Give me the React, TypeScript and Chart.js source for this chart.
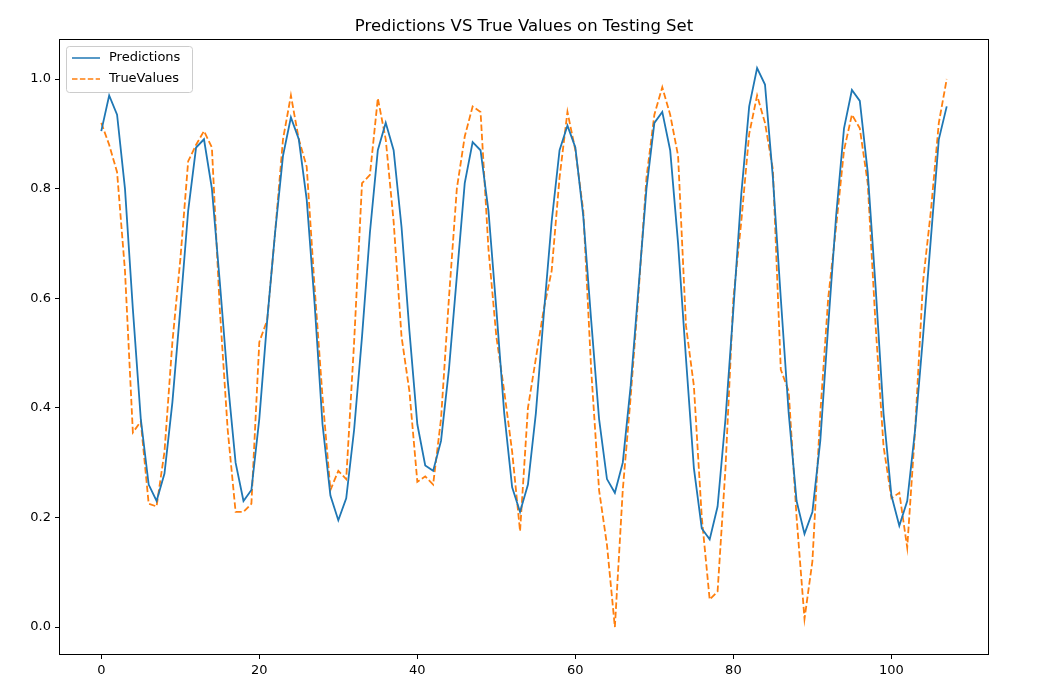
import React, { useEffect, useRef } from "react";
import Chart from "chart.js/auto";

// x index 0..107
const predictions = [
  0.905, 0.97, 0.935, 0.8, 0.58, 0.38, 0.26, 0.23, 0.28, 0.41, 0.58, 0.76, 0.875, 0.89, 0.8, 0.63, 0.45, 0.3, 0.23, 0.25,
  0.38, 0.56, 0.72, 0.86, 0.93, 0.89, 0.78, 0.59, 0.37, 0.24, 0.195, 0.235, 0.36, 0.53, 0.72, 0.87, 0.92, 0.87, 0.73, 0.54,
  0.37, 0.295, 0.285, 0.34, 0.47, 0.64, 0.81, 0.885, 0.87, 0.76, 0.58, 0.39, 0.255, 0.21, 0.26, 0.39, 0.57, 0.74, 0.87, 0.915,
  0.875, 0.75, 0.56, 0.38, 0.27, 0.245, 0.3, 0.44, 0.62, 0.8, 0.92, 0.94, 0.87, 0.7, 0.49, 0.29, 0.18, 0.16, 0.22, 0.38,
  0.58, 0.79, 0.95, 1.02, 0.99, 0.82, 0.6, 0.39, 0.23, 0.17, 0.21, 0.34, 0.55, 0.75, 0.91, 0.98, 0.96, 0.83, 0.62, 0.39,
  0.24, 0.185, 0.23, 0.36, 0.53, 0.71, 0.89, 0.95,
];
const trueValues = [
  0.92, 0.88, 0.83, 0.65, 0.355, 0.375, 0.225, 0.22, 0.32, 0.52, 0.67, 0.85, 0.88, 0.905, 0.875, 0.58, 0.36, 0.21, 0.21, 0.225,
  0.52, 0.56, 0.72, 0.89, 0.97, 0.89, 0.84, 0.62, 0.42, 0.25, 0.285, 0.27, 0.52, 0.81, 0.825, 0.965, 0.89, 0.74, 0.53, 0.43,
  0.265, 0.275, 0.26, 0.38, 0.6, 0.8, 0.895, 0.95, 0.94, 0.69, 0.53, 0.43, 0.32, 0.175, 0.4, 0.49, 0.58, 0.65, 0.82, 0.94,
  0.87, 0.76, 0.47, 0.25, 0.15, 0.0, 0.25, 0.42, 0.61, 0.82, 0.935, 0.985, 0.935, 0.86, 0.55, 0.44, 0.2, 0.05, 0.065, 0.29,
  0.6, 0.74, 0.9, 0.97, 0.92, 0.835, 0.47, 0.43, 0.2, 0.015, 0.12, 0.39, 0.6, 0.73, 0.87, 0.935, 0.91, 0.81, 0.55, 0.33,
  0.235, 0.245, 0.145, 0.36, 0.63, 0.76, 0.92, 1.0,
];
const xTicks = [0, 20, 40, 60, 80, 100];
const yTicks = [0, 0.2, 0.4, 0.6, 0.8, 1.0];
const title = "Predictions VS True Values on Testing Set";

const BLUE = "#1f77b4";
const ORANGE = "#ff7f0e";
const FONT = "'DejaVu Sans', sans-serif";

const framePlugin = {
  id: "frame",
  afterDraw(chart: any) {
    const { ctx, chartArea: a } = chart;
    ctx.save();
    ctx.strokeStyle = "#000";
    ctx.lineWidth = 1;
    ctx.strokeRect(a.left + 0.5, a.top + 0.5, a.right - a.left - 1, a.bottom - a.top - 1);
    // title
    ctx.fillStyle = "#000";
    ctx.font = `16.5px ${FONT}`;
    ctx.textAlign = "center";
    ctx.textBaseline = "alphabetic";
    ctx.fillText(title, (a.left + a.right) / 2, a.top - 8);
    // legend
    const lx = a.left + 7;
    const ly = a.top + 7;
    ctx.fillStyle = "rgba(255,255,255,0.8)";
    ctx.strokeStyle = "#cccccc";
    ctx.beginPath();
    ctx.roundRect(lx + 0.5, ly + 0.5, 126, 46, 3);
    ctx.fill();
    ctx.stroke();
    const items = [
      { label: "Predictions", color: BLUE, dash: [] as number[] },
      { label: "TrueValues", color: ORANGE, dash: [5.5, 2.4] },
    ];
    ctx.font = `13px ${FONT}`;
    ctx.textAlign = "left";
    ctx.textBaseline = "middle";
    items.forEach((it, i) => {
      const y = ly + 12 + i * 21;
      ctx.strokeStyle = it.color;
      ctx.lineWidth = 1.5;
      ctx.setLineDash(it.dash);
      ctx.beginPath();
      ctx.moveTo(lx + 6, y);
      ctx.lineTo(lx + 34, y);
      ctx.stroke();
      ctx.setLineDash([]);
      ctx.fillStyle = "#000";
      ctx.fillText(it.label, lx + 43, y);
    });
    ctx.restore();
  },
};

const App: React.FC = () => {
  const canvasRef = useRef<HTMLCanvasElement | null>(null);

  useEffect(() => {
    if (!canvasRef.current) return;
    const tickOpts = {
      color: "#000",
      font: { family: FONT, size: 13 },
    };
    const chart = new Chart(canvasRef.current, {
      type: "line",
      data: {
        datasets: [
          {
            label: "Predictions",
            data: predictions.map((v, i) => ({ x: i, y: v })),
            borderColor: BLUE,
            borderWidth: 1.8,
            pointRadius: 0,
            tension: 0,
          },
          {
            label: "TrueValues",
            data: trueValues.map((v, i) => ({ x: i, y: v })),
            borderColor: ORANGE,
            borderWidth: 1.8,
            borderDash: [6.5, 2.8],
            pointRadius: 0,
            tension: 0,
          },
        ],
      },
      options: {
        responsive: false,
        animation: false,
        devicePixelRatio: 1,
        layout: { padding: { top: 39, right: 53, left: 0, bottom: 0 } },
        plugins: { legend: { display: false }, title: { display: false }, tooltip: { enabled: false } },
        scales: {
          x: {
            type: "linear",
            min: -5.35,
            max: 112.35,
            afterBuildTicks: (s: any) => {
              s.ticks = xTicks.map((v) => ({ value: v }));
            },
            afterFit: (s: any) => {
              s.height = 41;
            },
            ticks: { ...tickOpts, padding: 4, callback: (v: any) => String(v) },
            grid: { display: true, drawOnChartArea: false, tickLength: 4, color: "#000" },
            border: { display: false },
          },
          y: {
            type: "linear",
            min: -0.051,
            max: 1.073,
            afterBuildTicks: (s: any) => {
              s.ticks = yTicks.map((v) => ({ value: v }));
            },
            afterFit: (s: any) => {
              s.width = 59;
            },
            ticks: { ...tickOpts, padding: 4, callback: (v: any) => Number(v).toFixed(1) },
            grid: { display: true, drawOnChartArea: false, tickLength: 4, color: "#000" },
            border: { display: false },
          },
        },
      },
      plugins: [framePlugin],
    } as any);
    return () => chart.destroy();
  }, []);

  return (
    <div style={{ position: "absolute", left: 0, top: 0, background: "#fff" }}>
      <canvas ref={canvasRef} width={1042} height={696}></canvas>
    </div>
  );
};

export default App;
